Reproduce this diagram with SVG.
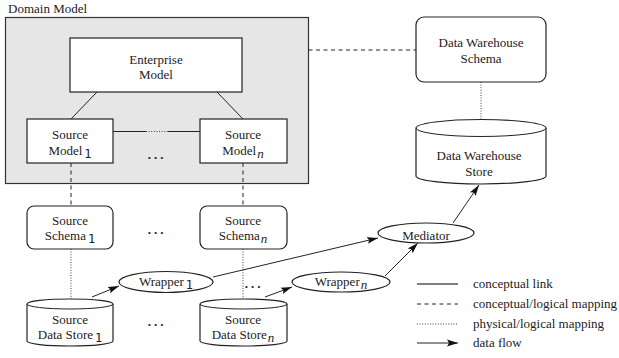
<svg xmlns="http://www.w3.org/2000/svg" width="619" height="358" viewBox="0 0 619 358">
<style>
text{font-family:"Liberation Serif","Times New Roman",serif;font-size:13px;fill:#222}
.c{text-anchor:middle}
.box{fill:#fff;stroke:#222;stroke-width:1.2}
.ln{fill:none;stroke:#222;stroke-width:1}
.dash{fill:none;stroke:#222;stroke-width:1;stroke-dasharray:4,3.5}
.dot{fill:none;stroke:#444;stroke-width:1;stroke-dasharray:1,1.6}
.arr{fill:none;stroke:#222;stroke-width:1;marker-end:url(#ah)}
.s1{font-family:"DejaVu Sans Mono","Liberation Mono",monospace;font-size:12px}
.sn{font-style:italic;font-size:13px}
.ell{font-family:"Liberation Serif",serif;font-size:13px;font-weight:bold;letter-spacing:3px}
</style>
<defs>
<marker id="ah" markerUnits="userSpaceOnUse" markerWidth="12" markerHeight="8" refX="11" refY="4" orient="auto">
<path d="M0,0.6 L11,4 L0,7.4 L2,4 Z" fill="#111"/>
</marker>
</defs>

<g id="domain-model">
<text x="8" y="13">Domain Model</text>
<rect x="5.5" y="17.5" width="303" height="166" fill="#e6e6e6" stroke="#333" stroke-width="1.2"/>
</g>

<g id="connectors">
<line class="ln" x1="97" y1="92" x2="71" y2="119"/>
<line class="ln" x1="217" y1="92" x2="243" y2="119"/>
<line class="ln" x1="113" y1="131.5" x2="146" y2="131.5"/>
<line class="dot" x1="146" y1="131.5" x2="168" y2="131.5"/>
<line class="ln" x1="168" y1="131.5" x2="200" y2="131.5"/>
<line class="dash" x1="308.5" y1="50" x2="416" y2="50"/>
<line class="dash" x1="71" y1="163" x2="71" y2="206"/>
<line class="dash" x1="243" y1="163" x2="243" y2="206"/>
<line class="dot" x1="71" y1="249" x2="71" y2="299"/>
<line class="dot" x1="243" y1="249" x2="243" y2="299"/>
<line class="dot" x1="481" y1="82" x2="481" y2="120"/>
<line class="arr" x1="92" y1="297" x2="119" y2="286"/>
<line class="arr" x1="265" y1="297" x2="292" y2="287"/>
<line class="arr" x1="213" y1="277" x2="378" y2="238"/>
<line class="arr" x1="385" y1="276" x2="418" y2="243"/>
<line class="arr" x1="453" y1="223" x2="479" y2="185"/>
</g>

<g id="enterprise-model">
<rect class="box" x="70" y="38" width="172" height="54"/>
<text class="c" x="156" y="64">Enterprise</text>
<text class="c" x="156" y="79">Model</text>
</g>

<g id="source-model-1">
<rect class="box" x="27" y="119" width="86" height="44"/>
<text class="c" x="70" y="139">Source</text>
<text class="c" x="70" y="155">Model<tspan class="s1" dx="2" dy="3">1</tspan></text>
</g>

<g id="source-model-n">
<rect class="box" x="200" y="119" width="87" height="44"/>
<text class="c" x="243" y="139">Source</text>
<text class="c" x="243" y="155">Model<tspan class="sn" dx="1" dy="3">n</tspan></text>
</g>

<g id="dots">
<text class="c ell" x="157" y="159">...</text>
<text class="c ell" x="157" y="234">...</text>
<text class="c ell" x="157" y="326">...</text>
<text class="c ell" x="254" y="288">...</text>
</g>

<g id="source-schema-1">
<rect class="box" x="27" y="206" width="86" height="43" rx="7"/>
<text class="c" x="70" y="225">Source</text>
<text class="c" x="70" y="240">Schema<tspan class="s1" dx="2" dy="3">1</tspan></text>
</g>

<g id="source-schema-n">
<rect class="box" x="200" y="206" width="87" height="43" rx="7"/>
<text class="c" x="243" y="225">Source</text>
<text class="c" x="243" y="240">Schema<tspan class="sn" dx="1" dy="3">n</tspan></text>
</g>

<g id="source-data-store-1">
<path class="box" d="M27,304 A43,5 0 0 1 113,304 L113,341 A43,5 0 0 1 27,341 Z"/>
<path class="ln" d="M27,304 A43,5 0 0 0 113,304"/>
<text class="c" x="70" y="324">Source</text>
<text class="c" x="70" y="339">Data Store<tspan class="s1" dx="2" dy="3">1</tspan></text>
</g>

<g id="source-data-store-n">
<path class="box" d="M200,304 A43.5,5 0 0 1 287,304 L287,341 A43.5,5 0 0 1 200,341 Z"/>
<path class="ln" d="M200,304 A43.5,5 0 0 0 287,304"/>
<text class="c" x="243" y="324">Source</text>
<text class="c" x="243" y="339">Data Store<tspan class="sn" dx="1" dy="3">n</tspan></text>
</g>

<g id="wrapper-1">
<ellipse class="box" cx="166" cy="282" rx="47" ry="10.5"/>
<text class="c" x="166" y="286">Wrapper<tspan class="s1" dx="2" dy="3">1</tspan></text>
</g>

<g id="wrapper-n">
<ellipse class="box" cx="341" cy="282" rx="49" ry="10"/>
<text class="c" x="341" y="286">Wrapper<tspan class="sn" dx="1" dy="3">n</tspan></text>
</g>

<g id="mediator">
<ellipse class="box" cx="426" cy="233" rx="48" ry="10"/>
<text class="c" x="426" y="240">Mediator</text>
</g>

<g id="data-warehouse-schema">
<rect class="box" x="416" y="17" width="130" height="65" rx="8"/>
<text class="c" x="481" y="47">Data Warehouse</text>
<text class="c" x="481" y="63">Schema</text>
</g>

<g id="data-warehouse-store">
<path class="box" d="M416,128 A65,8.5 0 0 1 546,128 L546,176 A65,8 0 0 1 416,176 Z"/>
<path class="ln" d="M416,128 A65,8.5 0 0 0 546,128"/>
<text class="c" x="479" y="160">Data Warehouse</text>
<text class="c" x="479" y="176">Store</text>
</g>

<g id="legend">
<line x1="417" y1="284" x2="458" y2="284" stroke="#555" stroke-width="1.4"/>
<text x="473" y="288">conceptual link</text>
<line class="dash" x1="417" y1="304" x2="458" y2="304"/>
<text x="473" y="308">conceptual/logical mapping</text>
<line class="dot" x1="417" y1="324" x2="458" y2="324"/>
<text x="473" y="328">physical/logical mapping</text>
<line class="arr" x1="417" y1="343" x2="458" y2="343"/>
<text x="473" y="347">data flow</text>
</g>
</svg>
